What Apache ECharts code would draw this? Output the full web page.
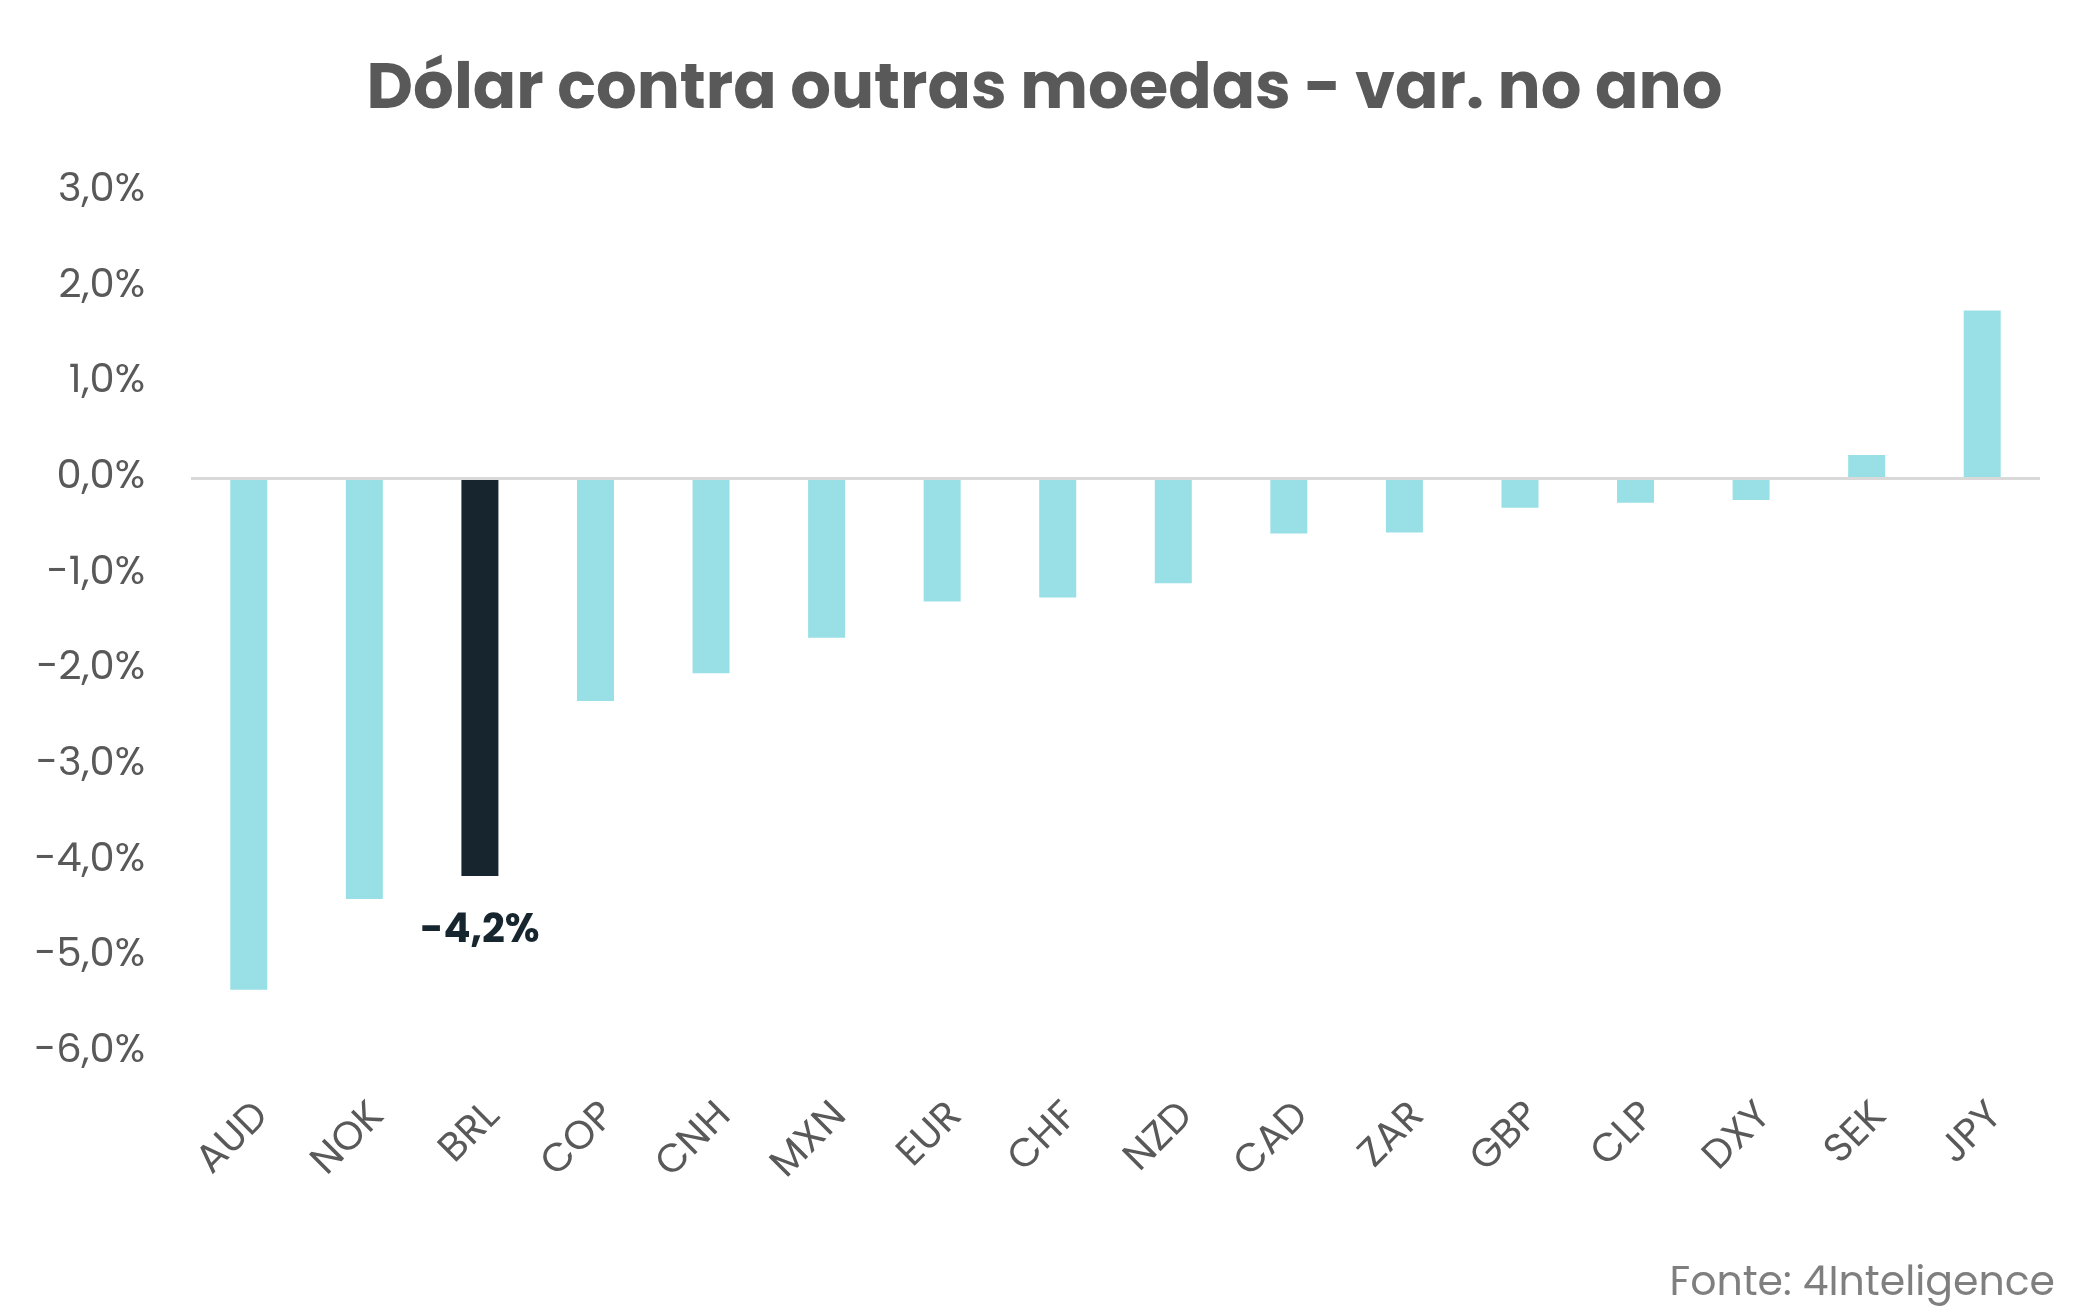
<!DOCTYPE html>
<html>
<head>
<meta charset="utf-8">
<script src="https://cdn.jsdelivr.net/npm/echarts@6/dist/echarts.min.js"></script>
<style>
  html, body { margin: 0; padding: 0; background: #fff; }
  #chart { width: 2089px; height: 1315px; }
</style>
</head>
<body>
<div id="chart"></div>
<script>
// moedas e variação no ano (%)
var moedas = ['AUD', 'NOK', 'BRL', 'COP', 'CNH', 'MXN', 'EUR', 'CHF', 'NZD', 'CAD', 'ZAR', 'GBP', 'CLP', 'DXY', 'SEK', 'JPY'];
var variacao = [-5.35, -4.40, -4.16, -2.33, -2.04, -1.67, -1.29, -1.25, -1.10, -0.58, -0.57, -0.31, -0.26, -0.23, 0.24, 1.75];
var destaque = 'BRL';
var eixoY = { min: -6, max: 3, intervalo: 1 };

var fonte = 'Poppins, Inter, "Open Sans", sans-serif';
var fmtPct = function (v) { return v.toFixed(1).replace('.', ',') + '%'; };

var myChart = echarts.init(document.getElementById('chart'));

var dados = variacao.map(function (v, i) {
    if (moedas[i] !== destaque) return v;
    return {
        value: v,
        itemStyle: { color: '#17262e' },
        label: {
            show: true,
            position: 'bottom',
            distance: 36,
            fontFamily: fonte,
            fontWeight: 'bold',
            fontSize: 40,
            color: '#17262e',
            formatter: function (p) { return fmtPct(p.value); }
        }
    };
});

var option = {
    backgroundColor: '#fff',
    animation: false,
    title: {
        text: 'Dólar contra outras moedas - var. no ano',
        left: 'center',
        top: 55,
        textStyle: {
            fontFamily: fonte,
            fontWeight: 'bold',
            fontSize: 64,
            color: '#595959'
        }
    },
    graphic: [{
        type: 'text',
        right: 34,
        bottom: 10,
        style: {
            text: 'Fonte: 4Inteligence',
            fontFamily: fonte,
            fontSize: 41,
            fill: '#7f7f7f'
        }
    }],
    grid: {
        left: 191,
        right: 49,
        top: 191,
        bottom: 1315 - 1052
    },
    xAxis: {
        type: 'category',
        data: moedas,
        axisLine: { show: false, onZero: false },
        axisTick: { show: false },
        axisLabel: {
            rotate: 45,
            margin: 44,
            interval: 0,
            verticalAlign: 'top',
            fontFamily: fonte,
            fontSize: 40,
            color: '#595959'
        }
    },
    yAxis: {
        type: 'value',
        min: eixoY.min,
        max: eixoY.max,
        interval: eixoY.intervalo,
        axisLine: { show: false },
        axisTick: { show: false },
        splitLine: { show: false },
        axisLabel: {
            margin: 46,
            fontFamily: fonte,
            fontSize: 40,
            color: '#595959',
            formatter: fmtPct
        }
    },
    series: [{
        type: 'bar',
        data: dados,
        barWidth: 37,
        itemStyle: { color: '#98e0e5' },
        markLine: {
            silent: true,
            symbol: 'none',
            label: { show: false },
            lineStyle: { color: '#d9d9d9', width: 3, type: 'solid' },
            data: [{ yAxis: 0 }]
        }
    }]
};

myChart.setOption(option);
</script>
</body>
</html>
